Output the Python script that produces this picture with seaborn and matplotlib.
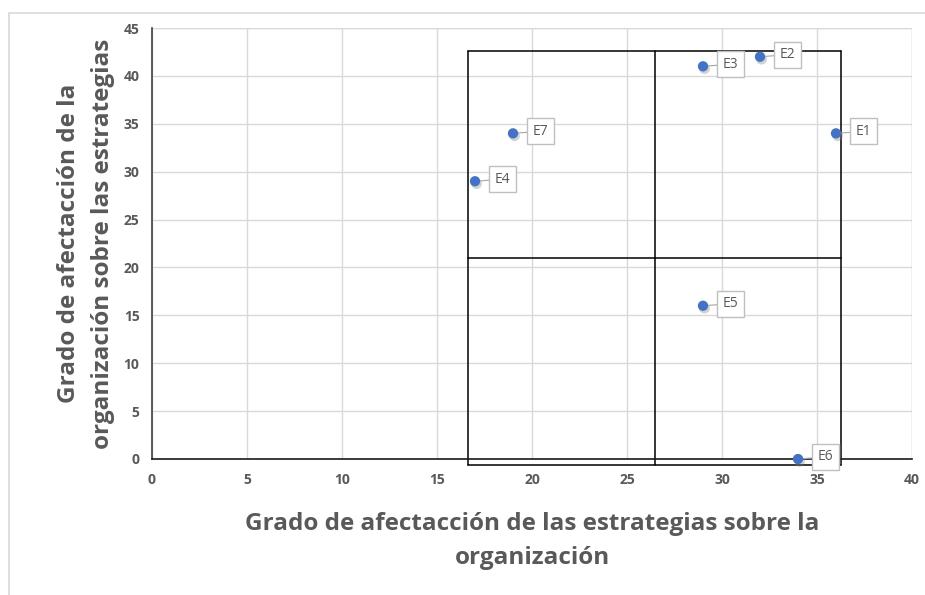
import matplotlib
matplotlib.use("Agg")
import matplotlib.pyplot as plt
import seaborn as sns
import pandas as pd
from matplotlib.lines import Line2D

labels = ["E1", "E2", "E3", "E4", "E5", "E6", "E7"]
x_vals = [36, 32, 29, 17, 29, 34, 19]
y_vals = [34, 42, 41, 29, 16, 0, 34]
x_ticks = [0, 5, 10, 15, 20, 25, 30, 35, 40]
y_ticks = [0, 5, 10, 15, 20, 25, 30, 35, 40, 45]
# quadrant frame lines
v_lines = [16.65, 26.45, 36.25]
h_lines = [-0.62, 21.0, 42.65]

sns.set_theme(style="white")
plt.rcParams['font.family'] = ['Open Sans', 'DejaVu Sans']

df = pd.DataFrame({"x": x_vals, "y": y_vals, "label": labels})

fig = plt.figure(figsize=(9.25, 5.95), dpi=100)
ax = fig.add_axes([152/925, 1-459/595, 760/925, 431/595])

gray_txt = "#595959"
grid_c = "#D9D9D9"

ax.set_xlim(0, 40)
ax.set_ylim(0, 45)
ax.set_xticks(x_ticks)
ax.set_yticks(y_ticks)
ax.grid(True, color=grid_c, linewidth=1)
ax.set_axisbelow(True)
for s in ["top", "right"]:
    ax.spines[s].set_visible(False)
ax.spines["left"].set_color("#404040")
ax.spines["bottom"].set_color("#1a1a1a")
ax.spines["left"].set_linewidth(1.2)
ax.spines["bottom"].set_linewidth(1.2)
ax.axvline(40, color=grid_c, linewidth=1, zorder=0)
ax.axhline(45, color=grid_c, linewidth=1, zorder=0)

ax.tick_params(axis="both", length=0, labelsize=10, labelcolor=gray_txt)
ax.tick_params(axis="x", pad=10)
ax.tick_params(axis="y", pad=9)
for t in ax.get_xticklabels() + ax.get_yticklabels():
    t.set_fontweight("bold")

# frame lines
ymin, ymax = h_lines[0], h_lines[-1]
xmin, xmax = v_lines[0], v_lines[-1]
for v in v_lines:
    ax.plot([v, v], [ymin, ymax], color="black", linewidth=1.1, clip_on=False, zorder=2)
for h in h_lines:
    ax.plot([xmin, xmax], [h, h], color="black", linewidth=1.1, clip_on=False, zorder=2)

# shadow
ax.scatter(df["x"] + 0.08, df["y"] - 0.25, s=60, color="#7f7f7f", alpha=0.35,
           edgecolor="none", zorder=3, clip_on=False)
sns.scatterplot(data=df, x="x", y="y", ax=ax, s=55, color="#4472C4",
                edgecolor="none", zorder=4, clip_on=False, legend=False)

for lx, ly, lab in zip(x_vals, y_vals, labels):
    ax.annotate(lab, xy=(lx, ly), xytext=(20, 2), textcoords="offset pixels",
                ha="left", va="center", fontsize=10, color=gray_txt,
                bbox=dict(boxstyle="square,pad=0.4", fc="white", ec="#BFBFBF", lw=1),
                arrowprops=dict(arrowstyle="-", color="#A6A6A6", lw=0.8,
                                shrinkA=0, shrinkB=4),
                zorder=5, annotation_clip=False)

ax.set_xlabel("Grado de afectacción de las estrategias sobre la\norganización",
              fontsize=17.5, fontweight="bold", color=gray_txt, labelpad=18,
              linespacing=1.55)
ax.set_ylabel("Grado de afectacción de la\norganización sobre las estrategias",
              fontsize=17.5, fontweight="bold", color=gray_txt, labelpad=6,
              linespacing=1.55)

# outer chart border (partial)
fig.add_artist(Line2D([9/925, 1], [1-13/595, 1-13/595], color="#D9D9D9", lw=1.2,
                      transform=fig.transFigure))
fig.add_artist(Line2D([9/925, 9/925], [0, 1-13/595], color="#D9D9D9", lw=1.2,
                      transform=fig.transFigure))

fig.savefig("out.png", dpi=100)
